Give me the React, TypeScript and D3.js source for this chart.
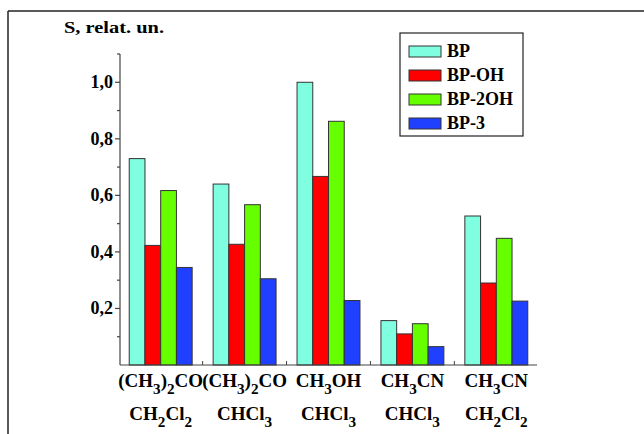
import React from "react";
import * as d3 from "d3";

const categories = ["(CH_3)_2CO|CH_2Cl_2", "(CH_3)_2CO|CHCl_3", "CH_3OH|CHCl_3", "CH_3CN|CHCl_3", "CH_3CN|CH_2Cl_2"];
const seriesNames = ["BP", "BP-OH", "BP-2OH", "BP-3"];
const seriesColors = ["#7fffe0", "#ff0000", "#66ff00", "#2040ff"];
const bpValues = [0.73, 0.64, 1.0, 0.157, 0.527];
const bpOhValues = [0.423, 0.427, 0.667, 0.11, 0.29];
const bp2OhValues = [0.617, 0.567, 0.862, 0.146, 0.448];
const bp3Values = [0.345, 0.305, 0.228, 0.065, 0.226];
const majorTicks = [0.2, 0.4, 0.6, 0.8, 1.0];
const minorTicks = [0.1, 0.3, 0.5, 0.7, 0.9, 1.1];
const yTitle = "S, relat. un.";

const seriesValues = [bpValues, bpOhValues, bp2OhValues, bp3Values];

const W = 644;
const H = 434;
const FONT = "Liberation Serif";

function Chem({ text, x, y, size }: { text: string; x: number; y: number; size: number }) {
  const parts: { t: string; sub: boolean }[] = [];
  let i = 0;
  while (i < text.length) {
    if (text[i] === "_") {
      parts.push({ t: text[i + 1], sub: true });
      i += 2;
    } else {
      let s = "";
      while (i < text.length && text[i] !== "_") {
        s += text[i];
        i++;
      }
      parts.push({ t: s, sub: false });
    }
  }
  const subSize = size * 0.8;
  const shift = size * 0.38;
  let state = false;
  return (
    <text x={x} y={y} textAnchor="middle" fontFamily={FONT} fontWeight="bold" fontSize={size} fill="#000">
      {parts.map((p, k) => {
        let dy = 0;
        if (p.sub && !state) dy = shift;
        if (!p.sub && state) dy = -shift;
        state = p.sub;
        return (
          <tspan key={k} dy={dy} fontSize={p.sub ? subSize : size}>
            {p.t}
          </tspan>
        );
      })}
    </text>
  );
}

export default function App() {
  const x0 = d3
    .scaleBand<number>()
    .domain(d3.range(categories.length))
    .range([120, 537])
    .paddingInner(0.25)
    .paddingOuter(0.11);
  const x1 = d3.scaleBand<number>().domain(d3.range(seriesNames.length)).range([0, x0.bandwidth()]).padding(0);
  const y = d3.scaleLinear().domain([0, 1.1]).range([365, 54]);
  const step = x0.step();
  const gapHalf = (step * 0.25) / 2;

  return (
    <svg width={W} height={H} style={{ position: "absolute", left: 0, top: 0, background: "#fff" }}>
      <rect x={0} y={0} width={W} height={H} fill="#fff" />
      <line x1={8} y1={11} x2={W} y2={11} stroke="#222" strokeWidth={1.5} />
      <line x1={8} y1={11} x2={8} y2={H} stroke="#222" strokeWidth={1.5} />

      {categories.map((c, gi) => (
        <g key={gi}>
          {seriesValues.map((vals, si) => {
            const v = vals[gi];
            return (
              <rect
                key={si}
                x={(x0(gi) as number) + (x1(si) as number)}
                y={y(v)}
                width={x1.bandwidth()}
                height={y(0) - y(v)}
                fill={seriesColors[si]}
                stroke="#333"
                strokeWidth={1}
              />
            );
          })}
        </g>
      ))}

      <line x1={120} y1={y(1.1)} x2={120} y2={y(0)} stroke="#444" strokeWidth={1.2} />
      {majorTicks.map((t) => (
        <g key={"M" + t}>
          <line x1={115} x2={120} y1={y(t)} y2={y(t)} stroke="#444" strokeWidth={1.2} />
          <text x={113} y={y(t) + 6} textAnchor="end" fontFamily={FONT} fontWeight="bold" fontSize={18} fill="#000">
            {t.toFixed(1).replace(".", ",")}
          </text>
        </g>
      ))}
      {minorTicks.map((t) => (
        <line key={"m" + t} x1={117} x2={120} y1={y(t)} y2={y(t)} stroke="#444" strokeWidth={1.2} />
      ))}

      <line x1={120} y1={y(0)} x2={537} y2={y(0)} stroke="#444" strokeWidth={1.2} />
      {d3.range(1, categories.length).map((gi) => {
        const tx = (x0(gi) as number) - gapHalf;
        return <line key={gi} x1={tx} x2={tx} y1={y(0)} y2={y(0) - 4} stroke="#444" strokeWidth={1} />;
      })}

      {categories.map((c, gi) => {
        const [a, b] = c.split("|");
        const cx = (x0(gi) as number) + x0.bandwidth() / 2;
        return (
          <g key={gi}>
            <Chem text={a} x={cx} y={387} size={19} />
            <Chem text={b} x={cx} y={420} size={19} />
          </g>
        );
      })}

      <text x={64} y={33} fontFamily={FONT} fontWeight="bold" fontSize={17} fill="#000" textLength={100} lengthAdjust="spacingAndGlyphs">
        {yTitle}
      </text>

      <rect x={400} y={33} width={123} height={103} fill="#fff" stroke="#222" strokeWidth={1.2} />
      {seriesNames.map((n, i) => (
        <g key={n}>
          <rect x={409} y={46 + i * 24} width={32} height={11} fill={seriesColors[i]} stroke="#333" strokeWidth={1} />
          <text x={447} y={57 + i * 24} fontFamily={FONT} fontWeight="bold" fontSize={18} fill="#000">
            {n}
          </text>
        </g>
      ))}
    </svg>
  );
}
